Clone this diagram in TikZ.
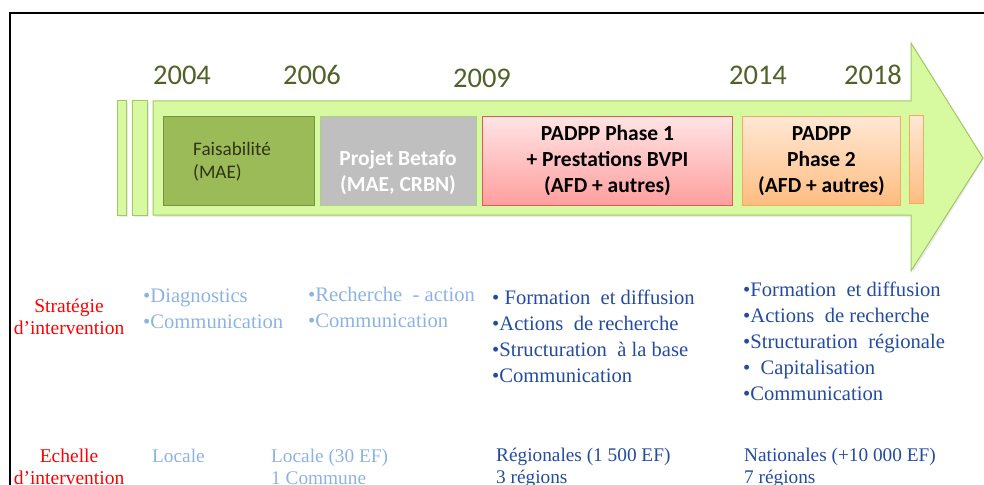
\documentclass[tikz,border=0pt]{standalone}
\usepackage{fontspec}
\setmainfont{Liberation Serif}
\newfontfamily\calib{Carlito}
\definecolor{arrowfill}{RGB}{215,250,160}
\definecolor{arrowdraw}{RGB}{160,200,100}
\definecolor{faisfill}{RGB}{155,187,89}
\definecolor{faisdraw}{RGB}{118,146,60}
\definecolor{faistext}{RGB}{50,50,20}
\definecolor{betfill}{RGB}{191,191,191}
\definecolor{betdraw}{RGB}{170,210,130}
\definecolor{ponetop}{RGB}{255,228,228}
\definecolor{ponebot}{RGB}{255,158,158}
\definecolor{ponedraw}{RGB}{220,90,90}
\definecolor{ptwotop}{RGB}{255,232,212}
\definecolor{ptwobot}{RGB}{255,188,128}
\definecolor{ptwodraw}{RGB}{245,170,100}
\definecolor{yearcol}{RGB}{79,98,40}
\definecolor{lightblue}{RGB}{141,179,226}
\definecolor{darkblue}{RGB}{35,75,160}
\begin{document}
\begin{tikzpicture}[x=1pt,y=-1pt,
  shaftbar/.style={fill=arrowfill, draw=arrowdraw, line width=1pt},
  phasebox/.style={anchor=north west, inner sep=0pt, line width=1pt, align=center,
     font=\calib\bfseries\fontsize{21.5}{26}\selectfont},
  yearlbl/.style={anchor=base, text=yearcol, inner sep=0pt, font=\calib\fontsize{28.5}{32}\selectfont},
  redlbl/.style={anchor=base, text=red, inner sep=0pt, font=\fontsize{19.5}{22}\selectfont},
  litem/.style={anchor=base west, text=lightblue, inner sep=0pt, font=\fontsize{20.6}{26}\selectfont},
  ditem/.style={anchor=base west, text=darkblue, inner sep=0pt, font=\fontsize{20.6}{26}\selectfont},
  sitem/.style={anchor=base west, inner sep=0pt, font=\fontsize{19.3}{22}\selectfont}]
\useasboundingbox (0,0) rectangle (984,484);
% frame
\draw[line width=2pt] (10,490) -- (10,13) -- (990,13);
% arrow shadow
\fill[black, opacity=0.08] (155,103) -- (913,103) -- (913,45) -- (984,159) -- (913,273) -- (913,217) -- (155,217) -- cycle;
\fill[black, opacity=0.08] (119,103) rectangle (128,217);
\fill[black, opacity=0.08] (134,103) rectangle (149,217);
% arrow
\draw[shaftbar] (153,101) -- (911,101) -- (911,43) -- (983,158) -- (911,271) -- (911,215) -- (153,215) -- cycle;
\draw[shaftbar] (117,101) rectangle (126,215);
\draw[shaftbar] (132,101) rectangle (147,215);
% years
\node[yearlbl] (y2004) at (182,85) {2004};
\node[yearlbl] (y2006) at (312,85) {2006};
\node[yearlbl] (y2009) at (482,88) {2009};
\node[yearlbl] (y2014) at (758,85) {2014};
\node[yearlbl] (y2018) at (873,85) {2018};
% phase boxes
\node[phasebox, fill=faisfill, draw=faisdraw, minimum width=151pt, minimum height=89pt] (fais) at (163,116) {};
\node[anchor=west, align=left, inner sep=0pt, text=faistext, font=\calib\fontsize{19.2}{23}\selectfont] (faistxt) at (193,162) {Faisabilité\\(MAE)};
\node[phasebox, fill=betfill, draw=betdraw, minimum width=156pt, minimum height=89pt] (betafo) at (320,116) {};
\node[anchor=center, align=center, inner sep=0pt, text=white, font=\calib\bfseries\fontsize{21.5}{26}\selectfont] (bettxt) at (398,173) {Projet Betafo\\(MAE, CRBN)};
\node[phasebox, top color=ponetop, bottom color=ponebot, draw=ponedraw, minimum width=250pt, minimum height=89pt] (phone) at (482,116) {PADPP Phase 1\\+ Prestations BVPI\\(AFD + autres)};
\node[phasebox, top color=ptwotop, bottom color=ptwobot, draw=ptwodraw, minimum width=158pt, minimum height=89pt] (phtwo) at (742,116) {PADPP\\Phase 2\\(AFD + autres)};
\node[phasebox, top color=ptwotop, bottom color=ptwobot, draw=ptwodraw, minimum width=14pt, minimum height=88pt] (phnext) at (909,115) {};
% row labels
\node[redlbl] (strat1) at (69,312) {Stratégie};
\node[redlbl] (strat2) at (69,334) {d’intervention};
\node[redlbl] (ech1) at (69,462) {Echelle};
\node[redlbl] (ech2) at (69,484) {d’intervention};
% strategy column 1
\node[litem] (c1a) at (143,302) {•Diagnostics};
\node[litem] (c1b) at (143,328) {•Communication};
% column 2
\node[litem] (c2a) at (308,301) {•Recherche~ - action};
\node[litem] (c2b) at (308,327) {•Communication};
% column 3
\node[ditem] (c3a) at (492,304) {•~Formation~ et diffusion};
\node[ditem] (c3b) at (492,330) {•Actions~ de recherche};
\node[ditem] (c3c) at (492,356) {•Structuration~ à la base};
\node[ditem] (c3d) at (492,382) {•Communication};
% column 4
\node[ditem] (c4a) at (743,296) {•Formation~ et diffusion};
\node[ditem] (c4b) at (743,322) {•Actions~ de recherche};
\node[ditem] (c4c) at (743,348) {•Structuration~ régionale};
\node[ditem] (c4d) at (743,374) {•~ Capitalisation};
\node[ditem] (c4e) at (743,400) {•Communication};
% scale row
\node[sitem, text=lightblue] (s1) at (152,462) {Locale};
\node[sitem, text=lightblue] (s2a) at (271,462) {Locale (30~EF)};
\node[sitem, text=lightblue] (s2b) at (271,484) {1 Commune};
\node[sitem, text=darkblue] (s3a) at (496,461) {Régionales (1 500~EF)};
\node[sitem, text=darkblue] (s3b) at (496,483) {3 régions};
\node[sitem, text=darkblue] (s4a) at (744,461) {Nationales (+10 000~EF)};
\node[sitem, text=darkblue] (s4b) at (744,483) {7 régions};
\end{tikzpicture}
\end{document}
